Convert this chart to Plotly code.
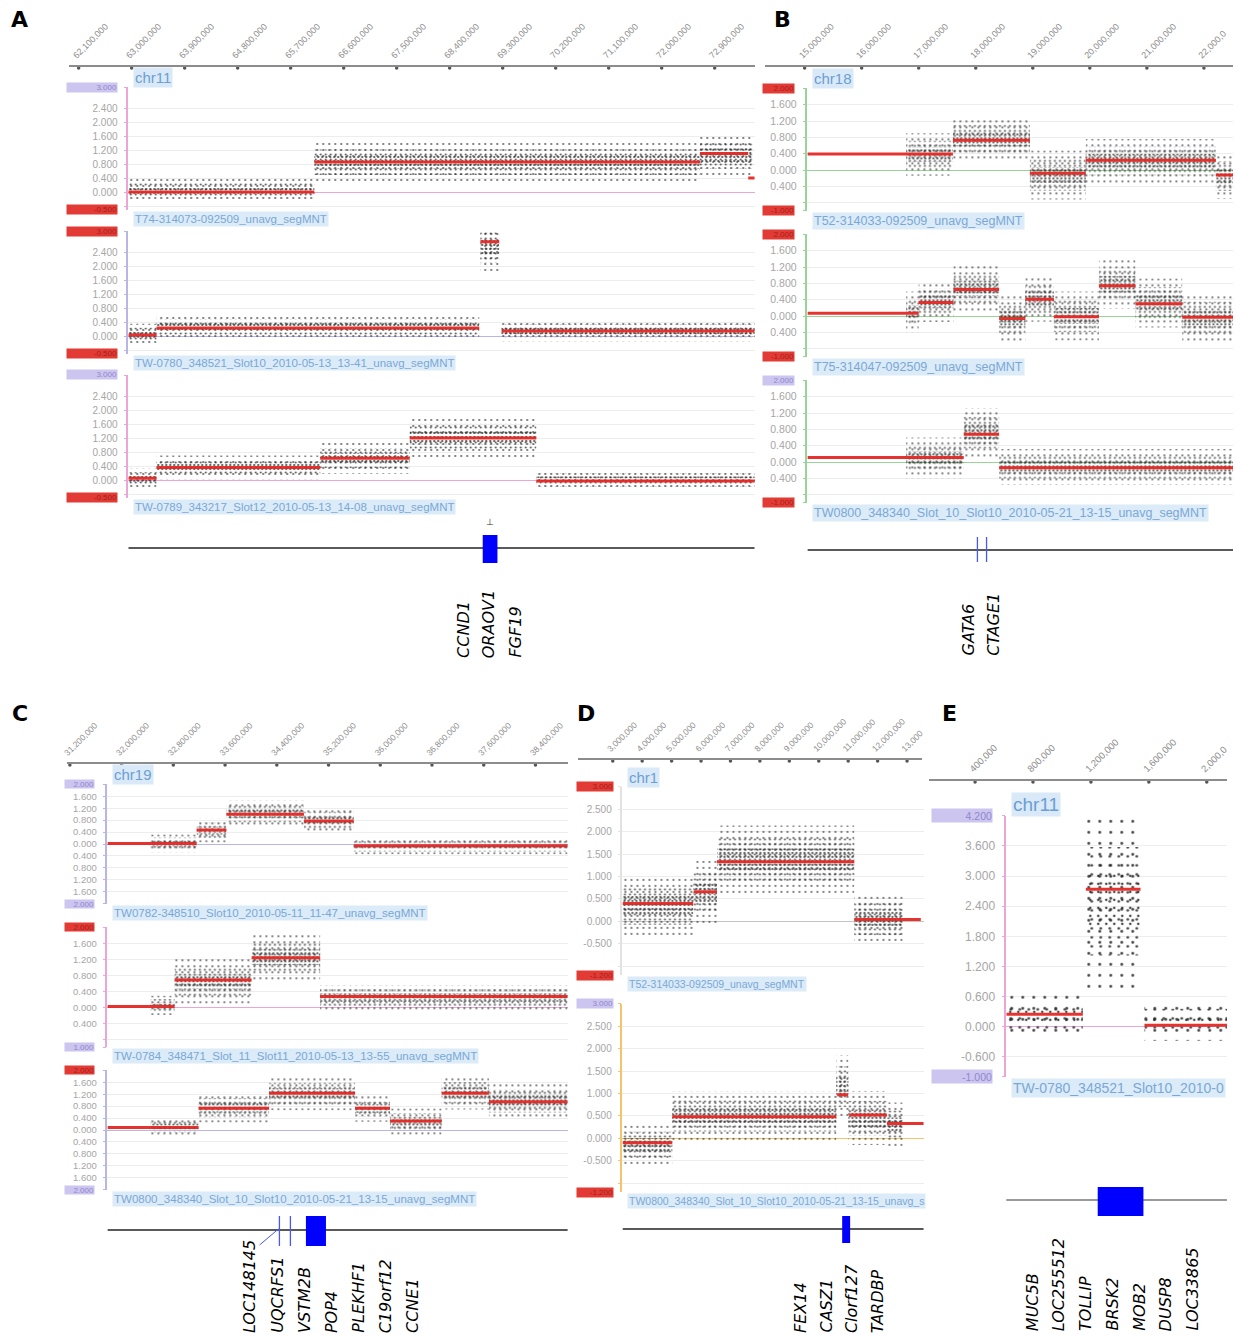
import plotly.graph_objects as go

W, H = 1236, 1337

# ======================= DATA (positions in Mb, values = log2 ratio) =======================
# ---- Panel A : chr11 ----
A_ruler_mb = [62.1, 63.0, 63.9, 64.8, 65.7, 66.6, 67.5, 68.4, 69.3, 70.2, 71.1, 72.0, 72.9]
A_ruler_lbl = ["62,100,000", "63,000,000", "63,900,000", "64,800,000", "65,700,000", "66,600,000",
               "67,500,000", "68,400,000", "69,300,000", "70,200,000", "71,100,000", "72,000,000",
               "72,900,000"]
A_ruler_view = [61.93, 73.58]
A_view = [62.94, 73.58]
A_y_range = [-0.5, 3.0]
A_y_ticks = [-0.4, 0.0, 0.4, 0.8, 1.2, 1.6, 2.0, 2.4, 3.0]
A_y_lbl = ["", "0.000", "0.400", "0.800", "1.200", "1.600", "2.000", "2.400", ""]
A_samples = ["T74-314073-092509_unavg_segMNT",
             "TW-0780_348521_Slot10_2010-05-13_13-41_unavg_segMNT",
             "TW-0789_343217_Slot12_2010-05-13_14-08_unavg_segMNT"]
# segments: (start, end, segment mean)
A1_segments = [(62.94, 66.10, 0.00), (66.10, 72.65, 0.86), (72.65, 73.47, 1.10), (73.47, 73.58, 0.40)]
A2_segments = [(62.94, 63.42, 0.03), (63.42, 68.90, 0.23), (68.92, 69.24, 2.69), (69.28, 73.58, 0.14)]
A3_segments = [(62.94, 63.42, 0.05), (63.42, 66.20, 0.36), (66.20, 67.72, 0.62), (67.72, 69.87, 1.20),
               (69.87, 73.58, -0.03)]
# probe clouds: (start, end, centre, spread)
A1_cloud = [(62.94, 66.10, 0.06, 0.17), (66.10, 72.65, 0.85, 0.28), (72.65, 73.55, 1.05, 0.30)]
A2_cloud = [(62.94, 63.42, 0.05, 0.15), (63.42, 68.90, 0.25, 0.17), (68.92, 69.24, 2.55, 0.35),
            (69.28, 73.58, 0.15, 0.15)]
A3_cloud = [(62.94, 63.42, 0.04, 0.14), (63.42, 66.20, 0.36, 0.17), (66.20, 67.72, 0.62, 0.22),
            (67.72, 69.87, 1.22, 0.30), (69.87, 73.58, 0.00, 0.15)]
A_gene_boxes = [(68.96, 69.21)]
A_gene_names = ["CCND1", "ORAOV1", "FGF19"]

# ---- Panel B : chr18 ----
B_ruler_mb = [15, 16, 17, 18, 19, 20, 21, 22]
B_ruler_lbl = ["15,000,000", "16,000,000", "17,000,000", "18,000,000", "19,000,000", "20,000,000",
               "21,000,000", "22,000,0"]
B_ruler_view = [14.30, 22.51]
B_view = [15.05, 22.51]
B_y_range = [-1.0, 2.0]
B_y_ticks = [-1.0, -0.8, -0.4, 0.0, 0.4, 0.8, 1.2, 1.6, 2.0]
B_y_lbl = ["", "", "0.400", "0.000", "0.400", "0.800", "1.200", "1.600", ""]
B_samples = ["T52-314033-092509_unavg_segMNT",
             "T75-314047-092509_unavg_segMNT",
             "TW0800_348340_Slot_10_Slot10_2010-05-21_13-15_unavg_segMNT"]
B1_segments = [(15.05, 17.60, 0.39), (17.60, 18.95, 0.73), (18.95, 19.93, -0.08), (19.93, 22.21, 0.24),
               (22.21, 22.51, -0.12)]
B2_segments = [(15.05, 17.00, 0.07), (17.00, 17.61, 0.33), (17.61, 18.41, 0.65), (18.41, 18.87, -0.06),
               (18.87, 19.37, 0.41), (19.37, 20.16, -0.02), (20.16, 20.80, 0.74), (20.80, 21.62, 0.30),
               (21.62, 22.51, -0.03)]
B3_segments = [(15.05, 17.79, 0.11), (17.79, 18.41, 0.68), (18.41, 22.51, -0.14)]
B1_cloud = [(16.78, 17.60, 0.38, 0.26), (17.60, 18.95, 0.76, 0.27), (18.95, 19.93, -0.12, 0.30),
            (19.93, 22.21, 0.22, 0.27), (22.21, 22.51, -0.15, 0.28)]
B2_cloud = [(16.78, 17.00, 0.10, 0.25), (17.00, 17.61, 0.35, 0.25), (17.61, 18.41, 0.68, 0.28),
            (18.41, 18.87, -0.05, 0.28), (18.87, 19.37, 0.42, 0.28), (19.37, 20.16, 0.00, 0.30),
            (20.16, 20.80, 0.78, 0.30), (20.80, 21.62, 0.32, 0.30), (21.62, 22.51, -0.04, 0.30)]
B3_cloud = [(16.78, 17.79, 0.10, 0.25), (17.79, 18.41, 0.72, 0.30), (18.41, 22.51, -0.12, 0.22)]
B_gene_lines = [18.03, 18.19]
B_gene_names = ["GATA6", "CTAGE1"]

# ---- Panel C : chr19 ----
C_ruler_mb = [31.2, 32.0, 32.8, 33.6, 34.4, 35.2, 36.0, 36.8, 37.6, 38.4]
C_ruler_lbl = ["31,200,000", "32,000,000", "32,800,000", "33,600,000", "34,400,000", "35,200,000",
               "36,000,000", "36,800,000", "37,600,000", "38,400,000"]
C_ruler_view = [31.15, 38.90]
C_view = [31.78, 38.90]
C13_y_range = [-2.0, 2.0]
C13_y_ticks = [-2.0, -1.6, -1.2, -0.8, -0.4, 0.0, 0.4, 0.8, 1.2, 1.6, 2.0]
C13_y_lbl = ["", "1.600", "1.200", "0.800", "0.400", "0.000", "0.400", "0.800", "1.200", "1.600", ""]
C2_y_range = [-1.0, 2.0]
C2_y_ticks = [-1.0, -0.8, -0.4, 0.0, 0.4, 0.8, 1.2, 1.6, 2.0]
C2_y_lbl = ["", "", "0.400", "0.000", "0.400", "0.800", "1.200", "1.600", ""]
C_samples = ["TW0782-348510_Slot10_2010-05-11_11-47_unavg_segMNT",
             "TW-0784_348471_Slot_11_Slot11_2010-05-13_13-55_unavg_segMNT",
             "TW0800_348340_Slot_10_Slot10_2010-05-21_13-15_unavg_segMNT"]
C1_segments = [(31.78, 33.16, 0.02), (33.16, 33.62, 0.47), (33.62, 34.82, 1.00), (34.82, 35.59, 0.77),
               (35.59, 38.90, -0.06)]
C2_segments = [(31.78, 32.82, 0.02), (32.82, 34.01, 0.68), (34.01, 35.07, 1.24), (35.07, 38.90, 0.27)]
C3_segments = [(31.78, 33.19, 0.08), (33.19, 34.28, 0.73), (34.28, 35.61, 1.23), (35.61, 36.15, 0.73),
               (36.15, 36.95, 0.30), (36.95, 37.68, 1.23), (37.68, 38.90, 0.95)]
C1_cloud = [(32.45, 33.16, 0.02, 0.15), (33.16, 33.62, 0.45, 0.20), (33.62, 34.82, 1.02, 0.22),
            (34.82, 35.59, 0.80, 0.22), (35.59, 38.90, -0.08, 0.13)]
C2_cloud = [(32.45, 32.82, 0.05, 0.12), (32.82, 34.01, 0.65, 0.28), (34.01, 35.07, 1.25, 0.30),
            (35.07, 38.90, 0.24, 0.16)]
C3_cloud = [(32.45, 33.19, 0.12, 0.15), (33.19, 34.28, 0.75, 0.25), (34.28, 35.61, 1.22, 0.28),
            (35.61, 36.15, 0.72, 0.22), (36.15, 36.95, 0.28, 0.22), (36.95, 37.68, 1.25, 0.28),
            (37.68, 38.90, 0.98, 0.30)]
C_gene_lines = [34.44, 34.61]
C_gene_boxes = [(34.85, 35.16)]
C_gene_names = ["LOC148145", "UQCRFS1", "VSTM2B", "POP4", "PLEKHF1", "C19orf12", "CCNE1"]

# ---- Panel D : chr1 ----
D_ruler_mb = [3, 4, 5, 6, 7, 8, 9, 10, 11, 12, 13]
D_ruler_lbl = ["3,000,000", "4,000,000", "5,000,000", "6,000,000", "7,000,000", "8,000,000",
               "9,000,000", "10,000,000", "11,000,000", "12,000,000", "13,000"]
D_ruler_view = [1.81, 13.50]
D_view = [3.33, 13.56]
D_y_range = [-1.2, 3.0]
D_y_ticks = [-1.0, -0.5, 0.0, 0.5, 1.0, 1.5, 2.0, 2.5, 3.0]
D_y_lbl = ["", "-0.500", "0.000", "0.500", "1.000", "1.500", "2.000", "2.500", ""]
D_samples = ["T52-314033-092509_unavg_segMNT",
             "TW0800_348340_Slot_10_Slot10_2010-05-21_13-15_unavg_s"]
D1_segments = [(3.33, 5.73, 0.40), (5.75, 6.54, 0.66), (6.54, 11.20, 1.33), (11.20, 13.46, 0.04)]
D2_segments = [(3.33, 5.02, -0.10), (5.02, 10.59, 0.48), (10.62, 10.99, 0.97), (11.03, 12.31, 0.52),
               (12.31, 13.56, 0.33)]
D1_cloud = [(3.33, 5.73, 0.35, 0.33), (5.73, 6.54, 0.65, 0.35), (6.54, 11.20, 1.38, 0.38),
            (11.20, 12.85, 0.05, 0.28)]
D2_cloud = [(3.33, 5.02, -0.14, 0.22), (5.02, 10.59, 0.50, 0.27), (10.59, 11.00, 1.15, 0.35),
            (11.00, 12.31, 0.45, 0.30), (12.31, 12.85, 0.30, 0.25)]
D_gene_boxes = [(10.79, 11.06)]
D_gene_names = ["FEX14", "CASZ1", "Clorf127", "TARDBP"]

# ---- Panel E : chr11 (start) ----
E_ruler_mb = [0.4, 0.8, 1.2, 1.6, 2.0]
E_ruler_lbl = ["400,000", "800,000", "1,200,000", "1,600,000", "2,000,0"]
E_ruler_view = [0.08, 2.14]
E_view = [0.615, 2.141]
E_y_range = [-1.0, 4.2]
E_y_ticks = [-1.0, -0.6, 0.0, 0.6, 1.2, 1.8, 2.4, 3.0, 3.6, 4.2]
E_y_lbl = ["", "-0.600", "0.000", "0.600", "1.200", "1.800", "2.400", "3.000", "3.600", ""]
E_samples = ["TW-0780_348521_Slot10_2010-0"]
E1_segments = [(0.615, 1.144, 0.25), (1.165, 1.543, 2.74), (1.570, 2.141, 0.03)]
E1_cloud = [(0.615, 1.144, 0.20, 0.22), (1.165, 1.543, 2.50, 0.90), (1.570, 2.141, 0.12, 0.20)]
E_gene_boxes = [(1.247, 1.563)]
E_gene_names = ["MUC5B", "LOC255512", "TOLLIP", "BRSK2", "MOB2", "DUSP8", "LOC33865"]

# ======================= FIGURE BUILDING =======================
def fx(px):
    return px / W


def fy(py):
    return 1 - py / H


fig = go.Figure()
axes_layout = {}
annotations = []
shapes = []
counter = [0]

PINK, LAV, GREEN, ORANGE, LGREY = '#e9a6d6', '#b9b6e6', '#9ad39a', '#f3c46a', '#e2e2e2'
BOX = {'p': ('#cbc5ef', '#9088cc'), 'r': ('#e23b35', '#a81d19')}
SANS = 'Liberation Sans, Arial, sans-serif'


def new_axes():
    counter[0] += 1
    n = counter[0]
    xs = 'x' if n == 1 else f'x{n}'
    ys = 'y' if n == 1 else f'y{n}'
    xk = 'xaxis' if n == 1 else f'xaxis{n}'
    yk = 'yaxis' if n == 1 else f'yaxis{n}'
    return xs, ys, xk, yk


def add_ruler(left, right, line_py, view, ticks, labels, fsize):
    xs, ys, xk, yk = new_axes()
    axes_layout[xk] = dict(domain=[fx(left), fx(right)], range=view, anchor=ys, side='top',
                           showline=True, linecolor='#8c8c8c', linewidth=2, ticks='',
                           tickvals=ticks, ticktext=labels, tickangle=-45, ticklabelshift=-5,
                           ticklabelstandoff=1,
                           tickfont=dict(size=fsize, color='#8c8c8c', family=SANS),
                           showgrid=False, zeroline=False, fixedrange=True)
    axes_layout[yk] = dict(domain=[fy(line_py + 1), fy(line_py - 1)], range=[-1, 1], anchor=xs,
                           visible=False, fixedrange=True)
    fig.add_trace(go.Scatter(x=ticks, y=[0] * len(ticks), xaxis=xs, yaxis=ys, mode='markers',
                             marker=dict(size=3.5, color='#555'), cliponaxis=False,
                             hoverinfo='skip', showlegend=False))


def add_track(geom, yrange, view, yt, ytl, colors, boxes, segs, clouds, chr_txt, sample_txt,
              fonts, dots):
    left, right, zero_py, scale, box_l, box_r, box_h = geom
    axis_col, zero_col = colors
    tick_fs, box_fs, chr_fs, samp_fs = fonts
    xs, ys, xk, yk = new_axes()
    top_py = zero_py - yrange[1] * scale
    bot_py = zero_py - yrange[0] * scale
    axes_layout[xk] = dict(domain=[fx(left), fx(right)], range=view, anchor=ys, visible=False,
                           fixedrange=True)
    axes_layout[yk] = dict(domain=[fy(bot_py), fy(top_py)], range=yrange, anchor=xs,
                           showline=True, linecolor=axis_col, linewidth=1.5,
                           ticks='outside', ticklen=3, tickcolor=axis_col, tickwidth=1,
                           tickvals=yt, ticktext=ytl, ticklabelstandoff=4,
                           tickfont=dict(size=tick_fs, color='#a6a6a6', family=SANS),
                           showgrid=True, gridcolor='#ededed', gridwidth=1,
                           zeroline=True, zerolinecolor=zero_col, zerolinewidth=1.3,
                           fixedrange=True)
    # probe clouds: nested bands of decreasing dot density
    dcol = dots[-1]
    for k, size, sol in dots[:-1]:
        fig.add_trace(go.Bar(
            x=[(a + b) / 2 for a, b, m, s in clouds], width=[b - a for a, b, m, s in clouds],
            base=[m - k * s for a, b, m, s in clouds], y=[2 * k * s for a, b, m, s in clouds],
            xaxis=xs, yaxis=ys, hoverinfo='skip', showlegend=False,
            marker=dict(color='rgba(0,0,0,0)', line=dict(width=0),
                        pattern=dict(shape='.', size=size, solidity=sol, fgcolor=dcol,
                                     fgopacity=0.85, bgcolor='rgba(0,0,0,0)', fillmode='replace'))))
    # segment means
    lx, ly = [], []
    for a, b, c in segs:
        lx += [a, b, None]
        ly += [c, c, None]
    fig.add_trace(go.Scatter(x=lx, y=ly, xaxis=xs, yaxis=ys, mode='lines',
                             line=dict(color='rgba(230,40,36,0.95)', width=3),
                             hoverinfo='skip', showlegend=False))
    # min / max boxes
    for (txt, sty), val in zip(boxes, (yrange[1], yrange[0])):
        bg, fc = BOX[sty]
        annotations.append(dict(xref='paper', x=fx(box_r), xanchor='right', yref=ys, y=val,
                                yanchor='middle', text=txt, showarrow=False, width=box_r - box_l,
                                height=box_h, bgcolor=bg, align='right', borderpad=0,
                                font=dict(size=box_fs, color=fc, family=SANS)))
    if chr_txt:
        annotations.append(dict(xref=f'{xs} domain', x=0, xshift=5, xanchor='left',
                                yref=f'{ys} domain', y=1, yanchor='bottom', yshift=-1,
                                text=chr_txt, showarrow=False, bgcolor='#d9e9f7', borderpad=1,
                                font=dict(size=chr_fs, color='#6c9fd2', family=SANS)))
    annotations.append(dict(xref=f'{xs} domain', x=0, xshift=5, xanchor='left',
                            yref=f'{ys} domain', y=0, yanchor='top', yshift=-1,
                            text=sample_txt, showarrow=False, bgcolor='#dcebf8', borderpad=1,
                            font=dict(size=samp_fs, color='#7aa8d6', family=SANS)))
    return xs


def add_genes(xs, view, line_py, line_col, boxes, box_top, box_bot, thin, names, lab_x0,
              lab_dx, lab_bottom):
    shapes.append(dict(type='line', xref=xs, yref='paper', x0=view[0], x1=view[1],
                       y0=fy(line_py), y1=fy(line_py), line=dict(color=line_col, width=1.3)))
    for a, b in boxes:
        shapes.append(dict(type='rect', xref=xs, yref='paper', x0=a, x1=b, y0=fy(box_bot),
                           y1=fy(box_top), fillcolor='#0000ff', line=dict(width=0)))
    for g in thin:
        shapes.append(dict(type='line', xref=xs, yref='paper', x0=g, x1=g, y0=fy(box_bot),
                           y1=fy(box_top), line=dict(color='#4858f0', width=1.3)))
    for i, nm in enumerate(names):
        annotations.append(dict(xref='paper', yref='paper', x=fx(lab_x0 + i * lab_dx),
                                y=fy(lab_bottom), xanchor='center', yanchor='bottom',
                                textangle=-90, text=f'<i>{nm}</i>', showarrow=False,
                                font=dict(size=16, color='black', family='DejaVu Sans')))


DOTS = ((2.0, 6, 0.07), (1.3, 5, 0.12), (0.65, 4, 0.24), '#2a2a2a')
DOTS_E = ((2.0, 11, 0.05), (1.2, 9, 0.07), (0.6, 8, 0.08), '#222')

# ---------------- Panel A ----------------
add_ruler(65, 755, 68, A_ruler_view, A_ruler_mb, A_ruler_lbl, 9)
fA = (10, 8, 15, 11.5)
add_track((125, 755, 192, 35, 65, 115, 9), A_y_range, A_view, A_y_ticks, A_y_lbl, (PINK, PINK),
          [("3.000", 'p'), ("-0.500", 'r')], A1_segments, A1_cloud, "chr11", A_samples[0], fA, DOTS)
add_track((125, 755, 336, 35, 65, 115, 9), A_y_range, A_view, A_y_ticks, A_y_lbl, (LAV, LAV),
          [("3.000", 'r'), ("-0.500", 'r')], A2_segments, A2_cloud, None, A_samples[1], fA, DOTS)
xA = add_track((125, 755, 480, 35, 65, 115, 9), A_y_range, A_view, A_y_ticks, A_y_lbl, (PINK, PINK),
               [("3.000", 'p'), ("-0.500", 'r')], A3_segments, A3_cloud, None, A_samples[2], fA, DOTS)
add_genes(xA, A_view, 548, '#222', A_gene_boxes, 535, 563, [], A_gene_names, 462, 26, 660)
annotations.append(dict(xref='paper', yref='paper', x=fx(489), y=fy(521), xanchor='center',
                        yanchor='middle', text='⊥', showarrow=False, font=dict(size=9, color='#333')))

# ---------------- Panel B ----------------
add_ruler(765, 1236, 68, B_ruler_view, B_ruler_mb, B_ruler_lbl, 9)
fB = (10.5, 8, 15, 12.5)
add_track((808, 1236, 170, 40.8, 765, 796, 9), B_y_range, B_view, B_y_ticks, B_y_lbl, (GREEN, GREEN),
          [("2.000", 'r'), ("-1.000", 'r')], B1_segments, B1_cloud, "chr18", B_samples[0], fB, DOTS)
add_track((808, 1236, 316, 40.8, 765, 796, 9), B_y_range, B_view, B_y_ticks, B_y_lbl, (GREEN, GREEN),
          [("2.000", 'r'), ("-1.000", 'r')], B2_segments, B2_cloud, None, B_samples[1], fB, DOTS)
xB = add_track((808, 1236, 462, 40.8, 765, 796, 9), B_y_range, B_view, B_y_ticks, B_y_lbl, (GREEN, GREEN),
               [("2.000", 'p'), ("-1.000", 'r')], B3_segments, B3_cloud, None, B_samples[2], fB, DOTS)
add_genes(xB, B_view, 550, '#222', [], 537, 562, B_gene_lines, B_gene_names, 969, 26, 658)

# ---------------- Panel C ----------------
add_ruler(63, 567, 765, C_ruler_view, C_ruler_mb, C_ruler_lbl, 8.5)
fC = (9.5, 8, 15, 11.5)
add_track((104, 567, 844, 29.8, 63, 92, 8), C13_y_range, C_view, C13_y_ticks, C13_y_lbl, (LAV, LAV),
          [("2.000", 'p'), ("2.000", 'p')], C1_segments, C1_cloud, "chr19", C_samples[0], fC, DOTS)
add_track((104, 567, 1007.3, 40, 63, 92, 8), C2_y_range, C_view, C2_y_ticks, C2_y_lbl, (PINK, PINK),
          [("2.000", 'r'), ("1.000", 'p')], C2_segments, C2_cloud, None, C_samples[1], fC, DOTS)
xC = add_track((104, 567, 1130, 29.8, 63, 92, 8), C13_y_range, C_view, C13_y_ticks, C13_y_lbl, (LAV, LAV),
               [("2.000", 'r'), ("2.000", 'p')], C3_segments, C3_cloud, None, C_samples[2], fC, DOTS)
add_genes(xC, C_view, 1230, '#222', C_gene_boxes, 1216, 1246, C_gene_lines, C_gene_names, 247, 27.3, 1335)
shapes.append(dict(type='line', xref='paper', yref='paper', x0=fx(276), y0=fy(1229), x1=fx(257),
                   y1=fy(1245), line=dict(color='#4858f0', width=1)))

# ---------------- Panel D ----------------
add_ruler(577, 923, 761, D_ruler_view, D_ruler_mb, D_ruler_lbl, 8.5)
fD = (10, 8, 15, 10.5)
add_track((622, 925, 921.3, 44.8, 577, 613, 9), D_y_range, D_view, D_y_ticks, D_y_lbl, (LGREY, '#c4c4c4'),
          [("3.000", 'r'), ("-1.200", 'r')], D1_segments, D1_cloud, "chr1", D_samples[0], fD, DOTS)
xD = add_track((622, 925, 1138.3, 44.8, 577, 613, 9), D_y_range, D_view, D_y_ticks, D_y_lbl, (ORANGE, ORANGE),
               [("3.000", 'p'), ("-1.200", 'r')], D2_segments, D2_cloud, None, D_samples[1], fD, DOTS)
add_genes(xD, D_view, 1229, '#222', D_gene_boxes, 1216, 1243, [], D_gene_names, 801, 25.7, 1335)

# ---------------- Panel E ----------------
add_ruler(930, 1230, 782, E_ruler_view, E_ruler_mb, E_ruler_lbl, 9.5)
fE = (12, 10.5, 19, 14)
xE = add_track((1008, 1230, 1026.7, 50.2, 935, 995, 13), E_y_range, E_view, E_y_ticks, E_y_lbl, (PINK, PINK),
               [("4.200", 'p'), ("-1.000", 'p')], E1_segments, E1_cloud, "chr11", E_samples[0], fE, DOTS_E)
add_genes(xE, [E_view[0] - 0.02, E_view[1]], 1200, '#777', E_gene_boxes, 1187, 1216, [],
          E_gene_names, 1034, 26.8, 1333)

# ---------------- panel letters ----------------
for letter, px, py in (("A", 16, 20), ("B", 783, 20), ("C", 16, 713), ("D", 585, 713), ("E", 951, 713)):
    annotations.append(dict(xref='paper', yref='paper', x=fx(px), y=fy(py), xanchor='center',
                            yanchor='middle', text=f'<b>{letter}</b>', showarrow=False,
                            font=dict(size=22, color='black', family='DejaVu Sans')))

fig.update_layout(width=W, height=H, autosize=False, margin=dict(l=0, r=0, t=0, b=0),
                  paper_bgcolor='white', plot_bgcolor='white', barmode='overlay', showlegend=False,
                  annotations=annotations, shapes=shapes, **axes_layout)
fig.write_html(
    "out.html",
    config={'responsive': False, 'displayModeBar': False},
    post_script=("var s=document.createElement('style');"
                 "s.innerHTML='html,body{margin:0!important;padding:0!important;overflow:hidden!important;"
                 "width:1236px!important;height:1337px!important;}"
                 ".plotly-graph-div,.js-plotly-plot,.svg-container,.main-svg{overflow:hidden!important;}';"
                 "document.head.appendChild(s);"),
)
